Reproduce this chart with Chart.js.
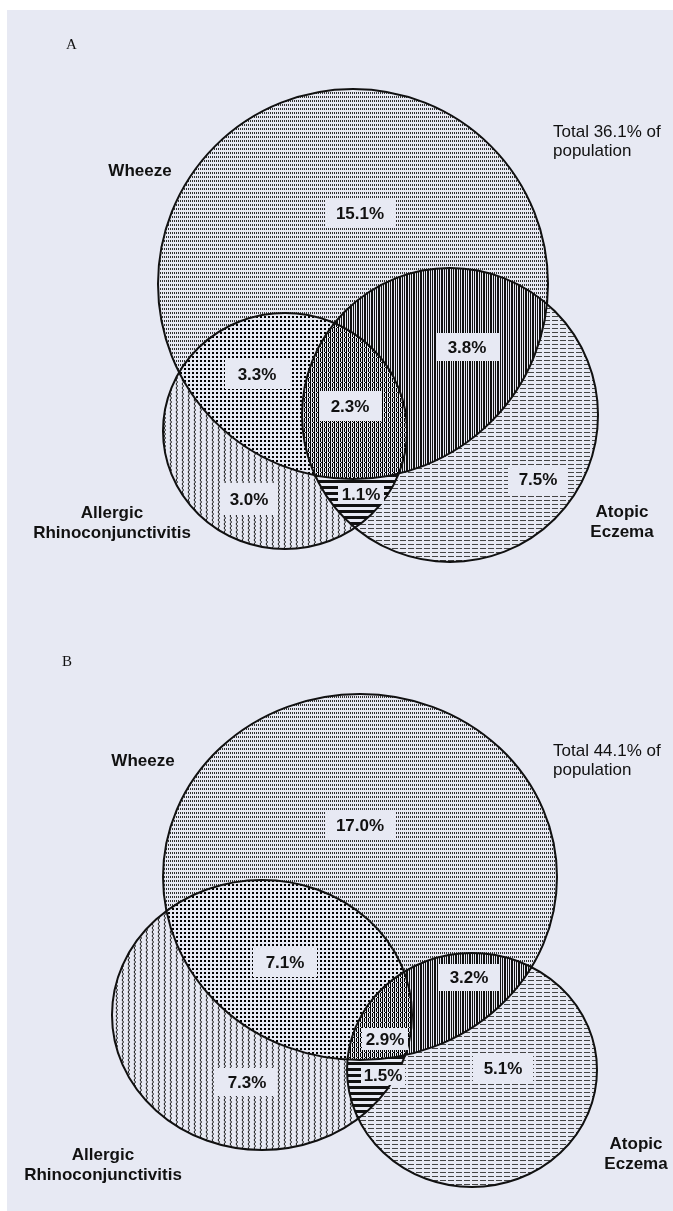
<!DOCTYPE html>
<html><head><meta charset="utf-8">
<script src="https://cdn.jsdelivr.net/npm/chart.js@4/dist/chart.umd.min.js"></script>
<style>
html,body{margin:0;padding:0;background:#fff;}
#wrap{position:relative;width:673px;height:1211px;}
canvas{display:block;}
</style></head><body>
<div id="wrap"><canvas id="venn"></canvas></div>
<script>
// ---- data ----
const panelLetters = ['A', 'B'];
const setNames = ['Wheeze', 'Allergic\nRhinoconjunctivitis', 'Atopic\nEczema'];
// regions: W only, W∩R, W∩R∩E, W∩E, R only, R∩E, E only
const regionKeys = ['W', 'WR', 'WRE', 'WE', 'R', 'RE', 'E'];
const valuesA = [15.1, 3.3, 2.3, 3.8, 3.0, 1.1, 7.5];
const valuesB = [17.0, 7.1, 2.9, 3.2, 7.3, 1.5, 5.1];
const totals = [36.1, 44.1];

// ---- layout (chart units = pixels); sets are [cx, cy, rx, ry] ----
const layout = [
  { // panel A
    sets: { W: [353, 284, 195, 195], R: [285, 431, 122, 118], E: [450, 415, 148, 147] },
    labels: { W: [360, 213], WR: [257, 374], WRE: [350, 406], WE: [467, 347], R: [249, 499], RE: [361, 494], E: [538, 479] },
    boxes: { W: [70, 28], WR: [65, 30], WRE: [63, 30], WE: [63, 28], R: [57, 32], RE: [46, 19], E: [60, 29] },
    names: [[140, 171], [112, 513], [622, 512]],
    total: [553, 132],
    letter: [66, 45]
  },
  { // panel B
    sets: { W: [360, 877, 197, 183], R: [262, 1015, 150, 135], E: [472, 1070, 125, 117] },
    labels: { W: [360, 825], WR: [285, 962], WRE: [385, 1039], WE: [469, 977], R: [247, 1082], RE: [383, 1075], E: [503, 1068] },
    boxes: { W: [70, 28], WR: [64, 30], WRE: [46, 22], WE: [60, 27], R: [60, 28], RE: [44, 20], E: [60, 28] },
    names: [[143, 761], [103, 1155], [636, 1144]],
    total: [553, 751],
    letter: [62, 662]
  }
];

const BG = 'rgb(231,233,243)';
const INK = '#111';

// ---- fill textures ----
function tile(w, h, draw) {
  const c = document.createElement('canvas');
  c.width = w; c.height = h;
  const g = c.getContext('2d');
  g.fillStyle = BG; g.fillRect(0, 0, w, h);
  g.fillStyle = INK; g.strokeStyle = INK;
  draw(g);
  return c;
}
const tiles = {
  W: tile(4, 4, g => { g.fillStyle = '#333'; g.fillRect(0, 0, 1, 2); g.fillRect(2, 0, 1, 2); }),
  WR: tile(4, 4, g => { g.fillStyle = '#000'; g.fillRect(0, 0, 2, 2); }),
  WRE: tile(4, 5, g => { g.fillStyle = '#000'; g.fillRect(0, 0, 1, 5); g.fillRect(2, 0, 1, 5); g.fillStyle = BG; g.fillRect(0, 2, 1, 1); g.fillStyle = '#000'; g.fillRect(1, 2, 1, 1); }),
  WE: tile(7, 1, g => { g.fillRect(0, 0, 2, 1); g.fillRect(3, 0, 1, 1); g.fillRect(5, 0, 1, 1); }),
  R: tile(6, 4, g => { g.lineWidth = 1; g.beginPath(); g.moveTo(2, 0); g.lineTo(3.5, 2); g.lineTo(2, 4); g.stroke(); }),
  RE: tile(4, 6, g => { g.fillRect(0, 0, 4, 3); }),
  E: tile(8, 4, g => { g.fillStyle = '#444'; g.fillRect(0, 0, 6, 1); })
};

// ---- datasets: one point per set centre ----
const centreData = layout.map(p => ['W', 'R', 'E'].map(k => ({ x: p.sets[k][0], y: p.sets[k][1], set: k })));

function setShapes(chart, di) {
  const xs = chart.scales.x, ys = chart.scales.y;
  const ds = chart.data.datasets[di];
  const meta = chart.getDatasetMeta(di);
  const out = {};
  meta.data.forEach((el, i) => {
    const k = ds.data[i].set;
    const s = layout[di].sets[k];
    out[k] = {
      x: el.x, y: el.y,
      rx: Math.abs(xs.getPixelForValue(s[0] + s[2]) - xs.getPixelForValue(s[0])),
      ry: Math.abs(ys.getPixelForValue(s[1] + s[3]) - ys.getPixelForValue(s[1]))
    };
  });
  return out;
}

const vennPlugin = {
  id: 'venn',
  beforeDraw(chart) {
    const { ctx, width, height } = chart;
    ctx.save();
    ctx.fillStyle = '#fff'; ctx.fillRect(0, 0, width, height);
    ctx.fillStyle = BG; ctx.fillRect(7, 10, width - 7, height - 10);
    ctx.restore();
  },
  afterDatasetsDraw(chart) {
    const { ctx, width, height } = chart;
    const xs = chart.scales.x, ys = chart.scales.y;
    chart.data.datasets.forEach((ds, di) => {
      const sh = setShapes(chart, di);
      // patterned regions
      regionKeys.forEach(key => {
        ctx.save();
        ['W', 'R', 'E'].forEach(s => {
          const c = sh[s];
          const p = new Path2D();
          if (key.includes(s)) {
            p.ellipse(c.x, c.y, c.rx, c.ry, 0, 0, Math.PI * 2);
            ctx.clip(p);
          } else {
            p.rect(0, 0, width, height);
            p.ellipse(c.x, c.y, c.rx, c.ry, 0, 0, Math.PI * 2);
            ctx.clip(p, 'evenodd');
          }
        });
        ctx.fillStyle = ctx.createPattern(tiles[key], 'repeat');
        ctx.fillRect(0, 0, width, height);
        ctx.restore();
      });
      // outlines
      ctx.save();
      ctx.strokeStyle = INK; ctx.lineWidth = 2;
      ['W', 'R', 'E'].forEach(s => {
        const c = sh[s];
        ctx.beginPath();
        ctx.ellipse(c.x, c.y, c.rx, c.ry, 0, 0, Math.PI * 2);
        ctx.stroke();
      });
      ctx.restore();
    });

    ctx.save();
    ctx.textBaseline = 'middle';
    layout.forEach((p, pi) => {
      const vals = pi === 0 ? valuesA : valuesB;
      // region values in boxes
      ctx.font = 'bold 17px "Liberation Sans", Arial, sans-serif';
      ctx.textAlign = 'center';
      regionKeys.forEach((k, i) => {
        const x = xs.getPixelForValue(p.labels[k][0]);
        const y = ys.getPixelForValue(p.labels[k][1]);
        const [bw, bh] = p.boxes[k];
        const txt = vals[i].toFixed(1) + '%';
        ctx.fillStyle = BG;
        ctx.fillRect(Math.round(x - bw / 2), Math.round(y - bh / 2), bw, bh);
        ctx.fillStyle = INK;
        ctx.fillText(txt, x, y + 1);
      });
      // set names
      setNames.forEach((n, i) => {
        const x = xs.getPixelForValue(p.names[i][0]);
        const y = ys.getPixelForValue(p.names[i][1]);
        n.split('\n').forEach((line, li) => { ctx.fillText(line, x, y + li * 20); });
      });
      // total
      ctx.font = '17px "Liberation Sans", Arial, sans-serif';
      ctx.textAlign = 'left';
      const tx = xs.getPixelForValue(p.total[0]), ty = ys.getPixelForValue(p.total[1]);
      ctx.fillText('Total ' + totals[pi].toFixed(1) + '% of', tx, ty);
      ctx.fillText('population', tx, ty + 19);
      // panel letter
      ctx.font = '15px "Liberation Serif", "Times New Roman", serif';
      ctx.fillText(panelLetters[pi], xs.getPixelForValue(p.letter[0]), ys.getPixelForValue(p.letter[1]));
    });
    ctx.restore();
  }
};

const canvas = document.getElementById('venn');
canvas.width = 673; canvas.height = 1211;
new Chart(canvas, {
  type: 'scatter',
  data: {
    datasets: centreData.map((d, i) => ({
      label: panelLetters[i],
      data: d,
      pointRadius: 0,
      pointHoverRadius: 0
    }))
  },
  options: {
    responsive: false,
    animation: false,
    events: [],
    layout: { padding: 0, autoPadding: false },
    plugins: { legend: { display: false }, tooltip: { enabled: false } },
    scales: {
      x: { type: 'linear', min: 0, max: 673, display: false },
      y: { type: 'linear', min: 0, max: 1211, reverse: true, display: false }
    }
  },
  plugins: [vennPlugin]
});
</script>
</body></html>
